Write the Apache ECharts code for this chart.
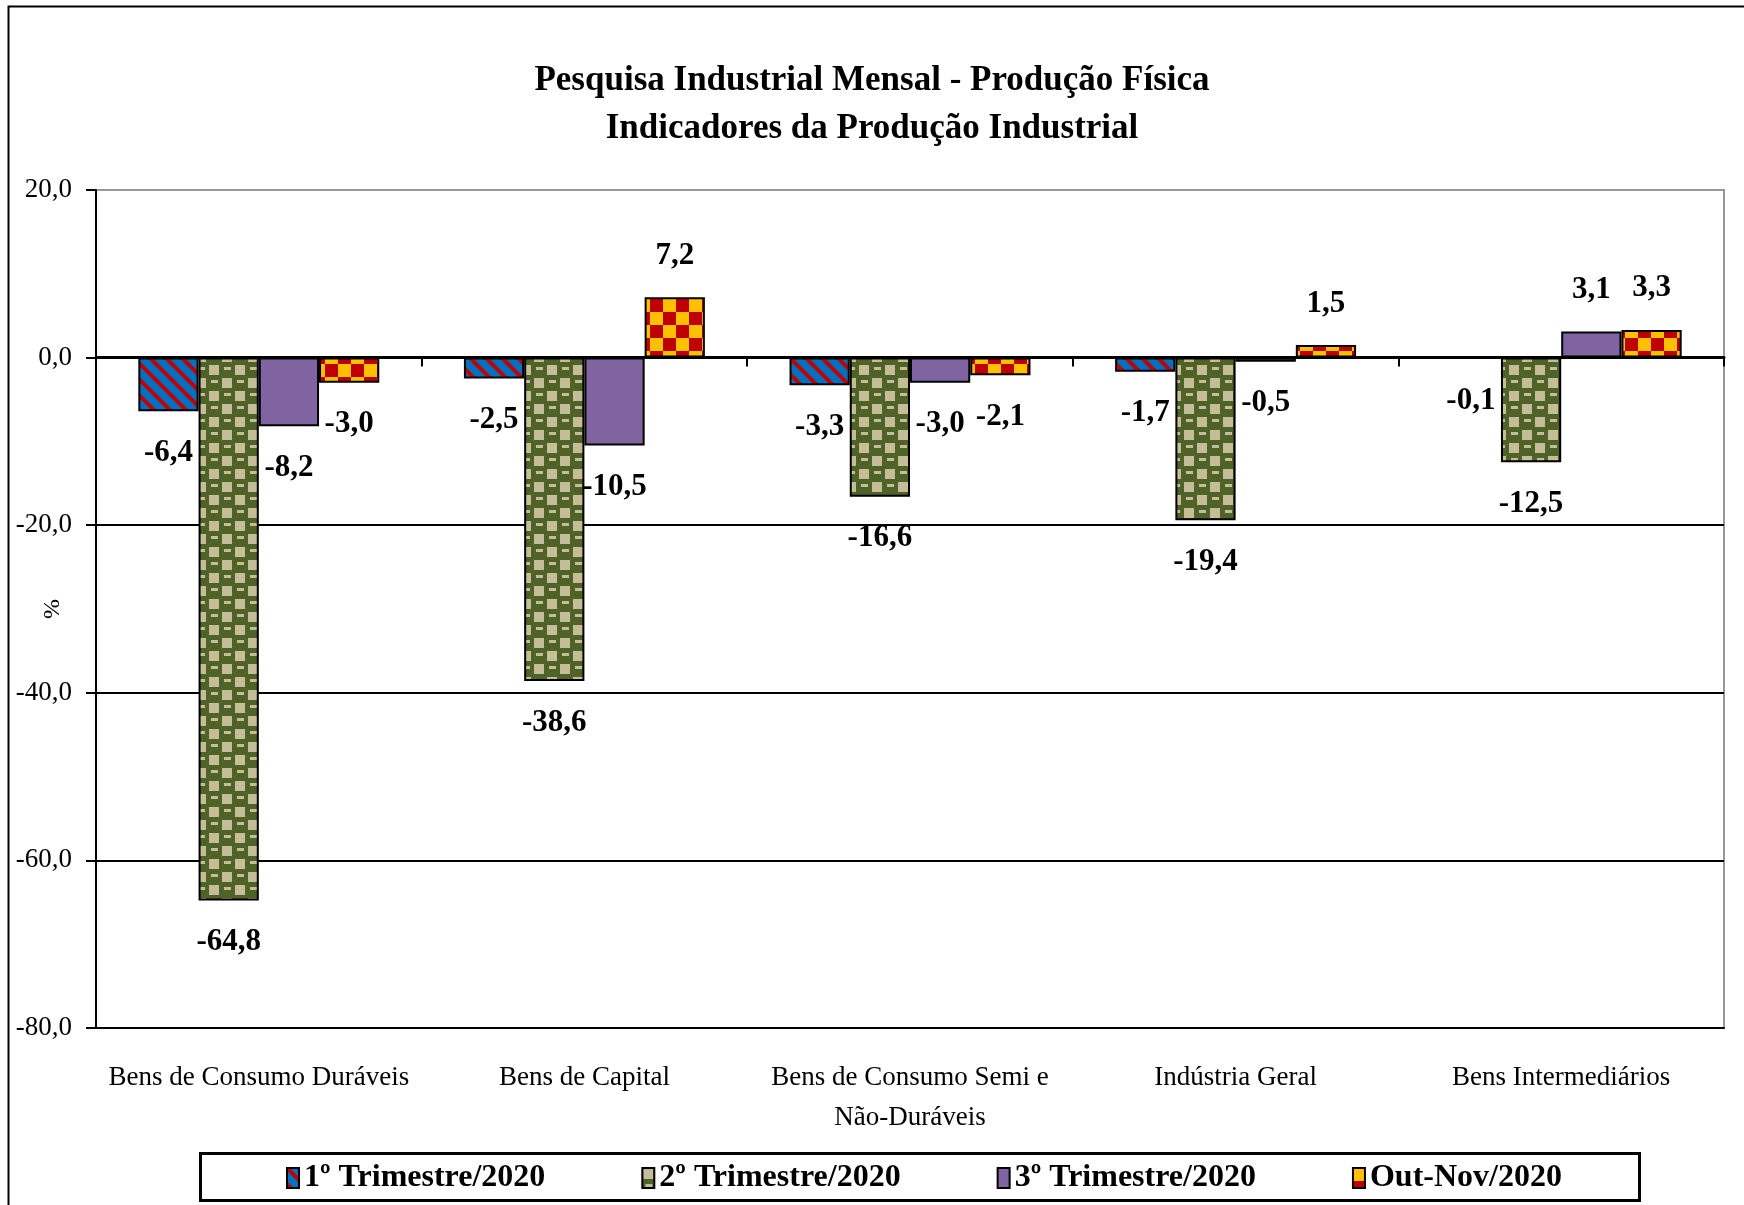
<!DOCTYPE html>
<html><head><meta charset="utf-8">
<script src="https://cdn.jsdelivr.net/npm/echarts@6/dist/echarts.min.js"></script>
<style>html,body{margin:0;padding:0;background:#fff}#c{width:1744px;height:1205px}</style>
</head><body><div id="c"></div>
<script>
const categories = ['Bens de Consumo Duráveis', 'Bens de Capital', 'Bens de Consumo Semi e\nNão-Duráveis', 'Indústria Geral', 'Bens Intermediários'];
const seriesNames = ['1º Trimestre/2020', '2º Trimestre/2020', '3º Trimestre/2020', 'Out-Nov/2020'];
const q1 = [-6.4, -2.5, -3.3, -1.7, -0.1];
const q2 = [-64.8, -38.6, -16.6, -19.4, -12.5];
const q3 = [-8.2, -10.5, -3.0, -0.5, 3.1];
const octNov = [-3.0, 7.2, -2.1, 1.5, 3.3];
const yTicks = [-80, -60, -40, -20, 0, 20];

function tile(w, h, draw) {
  const c = document.createElement('canvas'); c.width = w; c.height = h;
  draw(c.getContext('2d')); return { image: c, repeat: 'repeat' };
}
const pStripes = tile(16, 16, g => {
  g.fillStyle = '#0070C0'; g.fillRect(0, 0, 16, 16);
  g.strokeStyle = '#C00000'; g.lineWidth = 4;
  [-16, 0, 16].forEach(k => { g.beginPath(); g.moveTo(k - 2, -2); g.lineTo(k + 18, 18); g.stroke(); });
});
const pCheck2 = tile(26, 26, g => {
  g.fillStyle = '#4F6228'; g.fillRect(0, 0, 26, 26);
  g.fillStyle = '#C4BD97';
  g.fillRect(1, 1, 10, 10); g.fillRect(14, 14, 10, 10);
  g.fillRect(16, 3, 7, 3); g.fillRect(3, 16, 7, 3);
});
const pCheckRY = tile(26, 26, g => {
  g.fillStyle = '#FFC000'; g.fillRect(0, 0, 26, 26);
  g.fillStyle = '#C00000'; g.fillRect(13, 0, 13, 13); g.fillRect(0, 13, 13, 13);
});
const fills = [pStripes, pCheck2, '#8064A2', pCheckRY];
const allData = [q1, q2, q3, octNov];
const fmt = v => v.toFixed(1).replace('.', ',');
const FF = 'Liberation Serif';

const chart = echarts.init(document.getElementById('c'), null, { renderer: 'canvas' });
chart.setOption({
  animation: false,
  backgroundColor: '#fff',
  title: {
    text: 'Pesquisa Industrial Mensal - Produção Física\nIndicadores da Produção Industrial',
    left: 'center', top: 52,
    textStyle: { fontFamily: FF, fontWeight: 'bold', fontSize: 35, lineHeight: 48, color: '#000' }
  },
  legend: {
    left: 281, top: 1157, itemWidth: 12, itemHeight: 20, itemGap: 96, icon: 'rect',
    textStyle: { fontFamily: FF, fontWeight: 'bold', fontSize: 32, color: '#000' },
    data: seriesNames
  },
  grid: { left: 96, right: 20, top: 190, bottom: 177, show: true, borderColor: '#999', borderWidth: 2,
          containLabel: false, outerBoundsMode: 'none' },
  xAxis: [
    { type: 'category', data: categories, position: 'bottom',
      axisLine: { onZero: false, lineStyle: { color: '#000', width: 2 } },
      axisTick: { show: false },
      axisLabel: { fontFamily: FF, fontSize: 27, lineHeight: 40, color: '#000', margin: 30, interval: 0 } },
    { type: 'category', data: categories, position: 'bottom',
      axisLine: { onZero: true, lineStyle: { color: '#000', width: 3 } },
      axisTick: { show: true, length: 9, lineStyle: { color: '#000', width: 2 } },
      axisLabel: { show: false } }
  ],
  yAxis: {
    type: 'value', min: -80, max: 20, interval: 20,
    name: '%', nameLocation: 'middle', nameGap: 31, nameRotate: 90, nameMoveOverlap: false,
    nameTextStyle: { fontFamily: FF, fontSize: 24, color: '#000' },
    axisLine: { show: true, lineStyle: { color: '#000', width: 2 } },
    axisTick: { show: true, length: 10, lineStyle: { color: '#000', width: 2 } },
    axisLabel: { fontFamily: FF, fontSize: 27, color: '#000', margin: 24, formatter: fmt },
    splitLine: { show: true, lineStyle: { color: yTicks.map(t => t === 20 ? '#999' : '#000'), width: 2 } }
  },
  series: seriesNames.map((name, i) => ({
    name, type: 'bar', xAxisIndex: 0, barGap: '0%', barCategoryGap: '26%',
    itemStyle: { color: fills[i], borderColor: '#000', borderWidth: 2 },
    label: { show: true, fontFamily: FF, fontWeight: 'bold', fontSize: 31, color: '#000', distance: 26, formatter: p => fmt(p.value) },
    data: allData[i].map(v => ({ value: v, label: { position: v < 0 ? 'bottom' : 'top' } }))
  })),
  graphic: [
    { type: 'rect', left: 6, top: 4, shape: { width: 1760, height: 1220 }, style: { fill: null, stroke: '#000', lineWidth: 2 }, silent: true },
    { type: 'rect', left: 198, top: 1151, shape: { width: 1439, height: 47 }, style: { fill: null, stroke: '#000', lineWidth: 3 }, silent: true }
  ]
});
</script></body></html>
